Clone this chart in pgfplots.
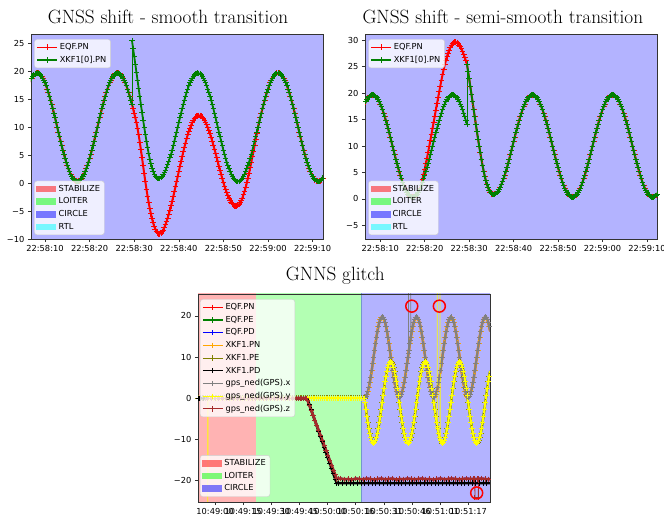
\documentclass[border=0pt]{standalone}
\usepackage{fontspec}
\usepackage{pgfplots}
\usepackage{pgfplotstable}
\pgfplotsset{compat=1.18}
\newfontfamily\djv{DejaVu Sans}
\newcommand\tfont{\djv\fontsize{8.3}{10}\selectfont}
\definecolor{mplred}{RGB}{255,0,0}
\definecolor{mplgreen}{RGB}{0,128,0}
\definecolor{mplblue}{RGB}{0,0,255}
\definecolor{mplorange}{RGB}{255,165,0}
\definecolor{mplolive}{RGB}{128,128,0}
\definecolor{mplgray}{RGB}{128,128,128}
\definecolor{mplyellow}{RGB}{255,255,0}
\definecolor{mplbrown}{RGB}{165,42,42}
\definecolor{circbg}{RGB}{179,179,255}
\definecolor{stabbg}{RGB}{255,179,179}
\definecolor{loitbg}{RGB}{179,255,179}
\definecolor{circedge}{RGB}{115,150,205}
\definecolor{lime}{RGB}{0,255,0}
\definecolor{mplcyan}{RGB}{0,255,255}

% ---------- top charts: segments of the north position (s from 22:58:00) ----------
\pgfplotstableread[row sep=\\]{
t y\\
6.50 17.95\\ 6.75 18.40\\ 7.00 18.79\\ 7.25 19.12\\ 7.50 19.37\\ 7.75 19.55\\ 8.00 19.66\\ 8.25 19.70\\
8.50 19.66\\ 8.75 19.55\\ 9.00 19.37\\ 9.25 19.12\\ 9.50 18.79\\ 9.75 18.40\\ 10.00 17.95\\ 10.25 17.43\\
10.50 16.86\\ 10.75 16.24\\ 11.00 15.56\\ 11.25 14.85\\ 11.50 14.10\\ 11.75 13.32\\ 12.00 12.51\\ 12.25 11.68\\
12.50 10.85\\ 12.75 10.00\\ 13.00 9.15\\ 13.25 8.32\\ 13.50 7.49\\ 13.75 6.68\\ 14.00 5.90\\ 14.25 5.15\\
14.50 4.44\\ 14.75 3.77\\ 15.00 3.14\\ 15.25 2.57\\ 15.50 2.05\\ 15.75 1.60\\ 16.00 1.21\\ 16.25 0.89\\
16.50 0.63\\ 16.75 0.45\\ 17.00 0.34\\ 17.25 0.30\\ 17.50 0.34\\ 17.75 0.45\\ 18.00 0.63\\ 18.25 0.89\\
18.50 1.21\\ 18.75 1.60\\ 19.00 2.05\\ 19.25 2.57\\
}\Sone
\pgfplotstableread[row sep=\\]{
t y\\
19.25 2.57\\ 19.50 3.14\\ 19.75 3.77\\ 20.00 4.44\\ 20.25 5.15\\ 20.50 5.90\\ 20.75 6.68\\ 21.00 7.49\\
21.25 8.32\\ 21.50 9.15\\ 21.75 10.00\\ 22.00 10.85\\ 22.25 11.68\\ 22.50 12.51\\ 22.75 13.32\\ 23.00 14.10\\
23.25 14.85\\ 23.50 15.56\\ 23.75 16.24\\ 24.00 16.86\\ 24.25 17.43\\ 24.50 17.95\\ 24.75 18.40\\ 25.00 18.79\\
25.25 19.12\\ 25.50 19.37\\ 25.75 19.55\\ 26.00 19.66\\ 26.25 19.70\\ 26.50 19.66\\ 26.75 19.55\\ 27.00 19.37\\
27.25 19.12\\ 27.50 18.79\\ 27.75 18.40\\ 28.00 17.95\\ 28.25 17.43\\ 28.50 16.86\\ 28.75 16.24\\ 29.00 15.56\\
29.25 14.85\\ 29.50 14.10\\
}\Stwo
\pgfplotstableread[row sep=\\]{
t y\\
19.25 2.57\\ 19.50 3.74\\ 19.75 4.67\\ 20.00 5.64\\ 20.25 6.65\\ 20.50 7.70\\ 20.75 8.78\\ 21.00 9.89\\
21.25 11.02\\ 21.50 12.15\\ 21.75 13.30\\ 22.00 14.45\\ 22.25 15.63\\ 22.50 16.81\\ 22.75 17.97\\ 23.00 19.10\\
23.25 20.25\\ 23.50 21.36\\ 23.75 22.44\\ 24.00 23.46\\ 24.25 24.43\\ 24.50 25.35\\ 24.75 26.15\\ 25.00 26.89\\
25.25 27.57\\ 25.50 28.17\\ 25.75 28.65\\ 26.00 29.06\\ 26.25 29.35\\ 26.50 29.56\\ 26.75 29.65\\ 27.00 29.67\\
27.25 29.57\\ 27.50 29.39\\ 27.75 29.12\\ 28.00 28.80\\ 28.25 28.38\\ 28.50 27.91\\ 28.75 27.39\\ 29.00 26.81\\
29.25 26.18\\ 29.50 25.50\\
}\Rtwo
\pgfplotstableread[row sep=\\]{
t y\\
29.50 25.50\\ 29.75 24.12\\ 30.00 22.71\\ 30.25 21.28\\ 30.50 19.85\\ 30.75 18.40\\ 31.00 16.95\\ 31.25 15.52\\
31.50 14.09\\ 31.75 12.68\\ 32.00 11.30\\ 32.25 10.00\\ 32.50 8.74\\ 32.75 7.52\\ 33.00 6.34\\ 33.25 5.27\\
33.50 4.30\\ 33.75 3.45\\ 34.00 2.71\\ 34.25 2.09\\ 34.50 1.58\\ 34.75 1.23\\ 35.00 0.99\\ 35.25 0.85\\
35.50 0.82\\ 35.75 0.87\\ 36.00 1.00\\ 36.25 1.21\\ 36.50 1.49\\ 36.75 1.84\\ 37.00 2.25\\ 37.25 2.74\\
37.50 3.28\\ 37.75 3.88\\ 38.00 4.52\\
}\Gpost
\pgfplotstableread[row sep=\\]{
t y\\
38.00 4.52\\ 38.25 5.15\\ 38.50 5.90\\ 38.75 6.68\\ 39.00 7.49\\ 39.25 8.32\\ 39.50 9.15\\ 39.75 10.00\\
40.00 10.85\\ 40.25 11.68\\ 40.50 12.51\\ 40.75 13.32\\ 41.00 14.10\\ 41.25 14.85\\ 41.50 15.56\\ 41.75 16.24\\
42.00 16.86\\ 42.25 17.43\\ 42.50 17.95\\ 42.75 18.40\\ 43.00 18.79\\ 43.25 19.12\\ 43.50 19.37\\ 43.75 19.55\\
44.00 19.66\\ 44.25 19.70\\ 44.50 19.66\\ 44.75 19.55\\ 45.00 19.37\\ 45.25 19.12\\ 45.50 18.79\\ 45.75 18.40\\
46.00 17.95\\ 46.25 17.43\\ 46.50 16.86\\ 46.75 16.24\\ 47.00 15.56\\ 47.25 14.85\\ 47.50 14.10\\ 47.75 13.32\\
48.00 12.51\\ 48.25 11.68\\ 48.50 10.85\\ 48.75 10.00\\ 49.00 9.15\\ 49.25 8.32\\ 49.50 7.49\\ 49.75 6.68\\
50.00 5.90\\ 50.25 5.15\\ 50.50 4.44\\ 50.75 3.77\\ 51.00 3.14\\ 51.25 2.57\\ 51.50 2.05\\ 51.75 1.60\\
52.00 1.21\\ 52.25 0.89\\ 52.50 0.63\\ 52.75 0.45\\ 53.00 0.34\\ 53.25 0.30\\ 53.50 0.34\\ 53.75 0.45\\
54.00 0.63\\ 54.25 0.89\\ 54.50 1.21\\ 54.75 1.60\\ 55.00 2.05\\ 55.25 2.57\\ 55.50 3.14\\ 55.75 3.77\\
56.00 4.44\\ 56.25 5.15\\ 56.50 5.90\\ 56.75 6.68\\ 57.00 7.49\\ 57.25 8.32\\ 57.50 9.15\\ 57.75 10.00\\
}\Sthree
\pgfplotstableread[row sep=\\]{
t y\\
29.50 14.10\\ 29.75 13.32\\ 30.00 12.51\\ 30.25 11.68\\ 30.50 10.85\\ 30.75 9.80\\ 31.00 8.65\\ 31.25 7.37\\
31.50 5.99\\ 31.75 4.58\\ 32.00 3.10\\ 32.25 1.65\\ 32.50 0.24\\ 32.75 -1.08\\ 33.00 -2.36\\ 33.25 -3.48\\
33.50 -4.55\\ 33.75 -5.50\\ 34.00 -6.39\\ 34.25 -7.11\\ 34.50 -7.77\\ 34.75 -8.25\\ 35.00 -8.66\\ 35.25 -8.90\\
35.50 -9.06\\ 35.75 -9.05\\ 36.00 -8.97\\ 36.25 -8.71\\ 36.50 -8.39\\ 36.75 -7.95\\ 37.00 -7.45\\ 37.25 -6.88\\
37.50 -6.26\\ 37.75 -5.58\\ 38.00 -4.86\\ 38.25 -4.08\\ 38.50 -3.27\\ 38.75 -2.42\\ 39.00 -1.54\\ 39.25 -0.65\\
39.50 0.25\\ 39.75 1.17\\ 40.00 2.08\\ 40.25 2.98\\ 40.50 3.88\\ 40.75 4.75\\ 41.00 5.60\\ 41.25 6.42\\
41.50 7.19\\ 41.75 7.94\\ 42.00 8.63\\ 42.25 9.26\\ 42.50 9.85\\ 42.75 10.37\\ 43.00 10.82\\ 43.25 11.22\\
43.50 11.54\\ 43.75 11.78\\ 44.00 11.96\\ 44.25 12.08\\ 44.50 12.12\\ 44.75 12.09\\ 45.00 11.99\\ 45.25 11.82\\
45.50 11.56\\ 45.75 11.25\\ 46.00 10.88\\ 46.25 10.44\\ 46.50 9.95\\ 46.75 9.41\\ 47.00 8.81\\ 47.25 8.18\\
47.50 7.51\\ 47.75 6.81\\ 48.00 6.08\\ 48.25 5.32\\ 48.50 4.57\\ 48.75 3.80\\ 49.00 3.03\\ 49.25 2.28\\
49.50 1.53\\ 49.75 0.80\\ 50.00 0.10\\ 50.25 -0.54\\ 50.50 -1.14\\ 50.75 -1.69\\ 51.00 -2.21\\ 51.25 -2.67\\
51.50 -3.08\\ 51.75 -3.41\\ 52.00 -3.69\\ 52.25 -3.90\\ 52.50 -4.05\\ 52.75 -4.11\\ 53.00 -4.11\\ 53.25 -4.00\\
53.50 -3.79\\ 53.75 -3.52\\ 54.00 -3.17\\ 54.25 -2.66\\ 54.50 -2.09\\ 54.75 -1.45\\ 55.00 -0.75\\ 55.25 0.05\\
55.50 0.89\\ 55.75 1.80\\ 56.00 2.74\\ 56.25 3.70\\ 56.50 4.70\\ 56.75 5.73\\ 57.00 6.79\\ 57.25 7.87\\
57.50 8.90\\ 57.75 9.90\\
}\Rone
\pgfplotstableread[row sep=\\]{
t y\\
57.75 10.00\\ 58.00 10.85\\ 58.25 11.68\\ 58.50 12.51\\ 58.75 13.32\\ 59.00 14.10\\ 59.25 14.85\\ 59.50 15.56\\
59.75 16.24\\ 60.00 16.86\\ 60.25 17.43\\ 60.50 17.95\\ 60.75 18.40\\ 61.00 18.79\\ 61.25 19.12\\ 61.50 19.37\\
61.75 19.55\\ 62.00 19.66\\ 62.25 19.70\\ 62.50 19.66\\ 62.75 19.55\\ 63.00 19.37\\ 63.25 19.12\\ 63.50 18.79\\
63.75 18.40\\ 64.00 17.95\\ 64.25 17.43\\ 64.50 16.86\\ 64.75 16.24\\ 65.00 15.56\\ 65.25 14.85\\ 65.50 14.10\\
65.75 13.32\\ 66.00 12.51\\ 66.25 11.68\\ 66.50 10.85\\ 66.75 10.00\\ 67.00 9.15\\ 67.25 8.32\\ 67.50 7.49\\
67.75 6.68\\ 68.00 5.90\\ 68.25 5.15\\ 68.50 4.44\\ 68.75 3.77\\ 69.00 3.14\\ 69.25 2.57\\ 69.50 2.05\\
69.75 1.60\\ 70.00 1.21\\ 70.25 0.89\\ 70.50 0.63\\ 70.75 0.45\\ 71.00 0.34\\ 71.25 0.30\\ 71.50 0.34\\
71.75 0.45\\ 72.00 0.63\\ 72.25 0.89\\ 72.50 1.21\\
}\Sfour

% ---------- bottom chart (s from 10:49:00) ----------
\pgfplotstableread[row sep=\\]{
t y\\
-9.5 0\\ -9 0\\ -8 0\\ -7 0\\ -6 0\\ -5 0\\ -4 0\\ -3 0\\ -2 0\\ -1 0\\ 0 0\\ 1 0\\ 2 0\\ 3 0\\ 4 0\\ 5 0\\
6 0\\ 7 0\\ 8 0\\ 9 0\\ 10 0\\ 11 0\\ 12 0\\ 13 0\\ 14 0\\ 15 0\\ 16 0\\ 17 0\\ 18 0\\ 19 0\\ 20 0\\ 21 0\\
22 0\\ 23 0\\ 24 0\\ 25 0\\ 26 0\\ 27 0\\ 28 0\\ 29 0\\ 30 0\\ 31 0\\ 32 0\\ 33 0\\ 34 0\\ 35 0\\ 36 0\\ 37 0\\
38 0\\ 39 0\\ 40 0\\ 41 0\\ 42 0\\ 43 0\\ 44 0\\ 45 0\\ 46 0\\ 47 0\\ 48 0\\ 49 0\\ 50 0\\ 51 0\\ 52 0\\ 53 0\\
54 0\\ 55 0\\ 56 0\\ 57 0\\ 58 0\\ 59 0\\ 60 0\\ 61 0\\ 62 0\\ 63 0\\ 64 0\\ 65 0\\ 66 0\\ 67 0\\ 68 0\\ 69 0\\
70 0\\ 71 0\\ 72 0\\ 73 0\\ 74 0\\ 75 0\\ 76 0\\ 77 0\\ 78 0\\ 79 0\\ 80 0\\ 81 0\\
}\Bzero
\pgfplotstableread[row sep=\\]{
t n e\\
81.10 0.30 -1.00\\ 81.62 0.45 -2.72\\ 82.13 0.89 -4.39\\ 82.65 1.60 -5.95\\ 83.17 2.57 -7.36\\ 83.68 3.77 -8.58\\
84.20 5.15 -9.57\\ 84.72 6.68 -10.30\\ 85.23 8.32 -10.75\\ 85.75 10.00 -10.90\\ 86.27 11.68 -10.75\\ 86.78 13.32 -10.30\\
87.30 14.85 -9.57\\ 87.82 16.24 -8.58\\ 88.33 17.43 -7.36\\ 88.85 18.40 -5.95\\ 89.37 19.12 -4.39\\ 89.88 19.55 -2.72\\
90.40 19.70 -1.00\\ 90.92 19.55 0.72\\ 91.43 19.12 2.39\\ 91.95 18.40 3.95\\ 92.47 17.43 5.36\\ 92.98 16.24 6.58\\
93.50 14.85 7.57\\ 94.02 13.32 8.30\\ 94.53 11.68 8.75\\ 95.05 10.00 8.90\\ 95.57 8.32 8.75\\ 96.08 6.68 8.30\\
96.60 5.15 7.57\\ 97.12 3.77 6.58\\ 97.63 2.57 5.36\\ 98.15 1.60 3.95\\ 98.67 0.89 2.39\\ 99.18 0.45 0.72\\
99.70 0.30 -1.00\\ 100.22 0.45 -2.72\\ 100.73 0.89 -4.39\\ 101.25 1.60 -5.95\\ 101.77 2.57 -7.36\\ 102.28 3.77 -8.58\\
102.80 5.15 -9.57\\ 103.32 6.68 -10.30\\ 103.83 8.32 -10.75\\ 104.35 10.00 -10.90\\ 104.87 11.68 -10.75\\ 105.38 13.32 -10.30\\
105.90 14.85 -9.57\\ 106.42 16.24 -8.58\\ 106.93 17.43 -7.36\\ 107.45 18.40 -5.95\\ 107.97 19.12 -4.39\\ 108.48 19.55 -2.72\\
109.00 19.70 -1.00\\ 109.52 19.55 0.72\\ 110.03 19.12 2.39\\ 110.55 18.40 3.95\\ 111.07 17.43 5.36\\ 111.58 16.24 6.58\\
112.10 14.85 7.57\\ 112.62 13.32 8.30\\ 113.13 11.68 8.75\\ 113.65 10.00 8.90\\ 114.17 8.32 8.75\\ 114.68 6.68 8.30\\
115.20 5.15 7.57\\ 115.72 3.77 6.58\\ 116.23 2.57 5.36\\ 116.75 1.60 3.95\\ 117.27 0.89 2.39\\ 117.78 0.45 0.72\\
118.30 0.30 -1.00\\ 118.82 0.45 -2.72\\ 119.33 0.89 -4.39\\ 119.85 1.60 -5.95\\ 120.37 2.57 -7.36\\ 120.88 3.77 -8.58\\
121.40 5.15 -9.57\\ 121.92 6.68 -10.30\\ 122.43 8.32 -10.75\\ 122.95 10.00 -10.90\\ 123.47 11.68 -10.75\\ 123.98 13.32 -10.30\\
124.50 14.85 -9.57\\ 125.02 16.24 -8.58\\ 125.53 17.43 -7.36\\ 126.05 18.40 -5.95\\ 126.57 19.12 -4.39\\ 127.08 19.55 -2.72\\
127.60 19.70 -1.00\\ 128.12 19.55 0.72\\ 128.63 19.12 2.39\\ 129.15 18.40 3.95\\ 129.67 17.43 5.36\\ 130.18 16.24 6.58\\
130.70 14.85 7.57\\ 131.22 13.32 8.30\\ 131.73 11.68 8.75\\ 132.25 10.00 8.90\\ 132.77 8.32 8.75\\ 133.28 6.68 8.30\\
133.80 5.15 7.57\\ 134.32 3.77 6.58\\ 134.83 2.57 5.36\\ 135.35 1.60 3.95\\ 135.87 0.89 2.39\\ 136.38 0.45 0.72\\
136.90 0.30 -1.00\\ 137.42 0.45 -2.72\\ 137.93 0.89 -4.39\\ 138.45 1.60 -5.95\\ 138.97 2.57 -7.36\\ 139.48 3.77 -8.58\\
140.00 5.15 -9.57\\ 140.52 6.68 -10.30\\ 141.03 8.32 -10.75\\ 141.55 10.00 -10.90\\ 142.07 11.68 -10.75\\ 142.58 13.32 -10.30\\
143.10 14.85 -9.57\\ 143.62 16.24 -8.58\\ 144.13 17.43 -7.36\\ 144.65 18.40 -5.95\\ 145.17 19.12 -4.39\\ 145.68 19.55 -2.72\\
146.20 19.70 -1.00\\ 146.72 19.55 0.72\\ 147.23 19.12 2.39\\ 147.75 18.40 3.95\\ 148.27 17.43 5.36\\ 148.78 16.24 6.58\\
}\NE
\pgfplotstableread[row sep=\\]{
t y\\
-3.85 0\\ -2 0\\ 0 0\\ 2 0\\ 4 0\\ 6 0\\ 8 0\\ 10 0\\ 12 0\\ 14 0\\ 16 0\\ 18 0\\ 20 0\\ 22 0\\ 24 0\\ 26 0\\
28 0\\ 30 0\\ 32 0\\ 34 0\\ 36 0\\ 38 0\\ 40 0\\ 42 0\\ 44 0\\ 45 0\\ 46 0\\ 47 0\\ 48 0\\ 49 0\\ 49.6 0\\
50 -0.48\\ 51 -1.69\\ 52 -2.90\\ 53 -4.11\\ 54 -5.32\\ 55 -6.53\\ 56 -7.74\\ 57 -8.95\\ 58 -10.16\\ 59 -11.37\\
60 -12.58\\ 61 -13.79\\ 62 -15.00\\ 63 -16.21\\ 64 -17.42\\ 65 -18.63\\ 65.8 -19.60\\ 67 -19.55\\
68 -19.5\\ 70 -19.7\\ 72 -19.6\\ 74 -19.8\\ 76 -19.5\\ 78 -19.6\\ 80 -19.7\\ 82 -19.5\\ 84 -19.6\\ 86 -19.8\\
88 -19.6\\ 90 -19.5\\ 92 -19.7\\ 94 -19.6\\ 96 -19.5\\ 98 -19.8\\ 100 -19.6\\ 102 -19.7\\ 104 -19.5\\ 106 -19.6\\
108 -19.7\\ 110 -19.6\\ 112 -19.5\\ 114 -19.7\\ 116 -19.6\\ 118 -19.8\\ 120 -19.6\\ 122 -19.5\\ 124 -19.7\\
126 -19.6\\ 128 -19.5\\ 130 -19.6\\ 132 -19.7\\ 134 -19.6\\ 136 -19.5\\ 138 -19.6\\ 140 -19.6\\ 142 -19.6\\
144 -19.5\\ 146 -19.6\\ 148 -19.7\\ 149 -19.6\\
}\Dz
\pgfplotstableread[row sep=\\]{
t y\\
-9.5 0\\ -9 0\\ -8.5 0\\ -8 0\\ -6 0\\ -4 0\\ -2 0\\ 0 0\\ 2 0\\ 4 0\\ 6 0\\ 8 0\\ 10 0\\ 12 0\\ 14 0\\ 16 0\\
18 0\\ 20 0\\ 22 0\\ 24 0\\ 26 0\\ 28 0\\ 30 0\\ 32 0\\ 34 0\\ 36 0\\ 38 0\\ 40 0\\ 42 0\\ 44 0\\ 46 0\\ 48 0\\
49 0\\ 49.8 0\\ 50 -0.26\\ 51 -1.55\\ 52 -2.84\\ 53 -4.13\\ 54 -5.42\\ 55 -6.71\\ 56 -8.00\\ 57 -9.29\\
58 -10.58\\ 59 -11.87\\ 60 -13.16\\ 61 -14.45\\ 62 -15.74\\ 63 -17.03\\ 64 -18.32\\ 65 -19.61\\ 65.8 -20.60\\
67 -20.6\\ 69 -20.6\\ 71 -20.6\\ 73 -20.6\\ 75 -20.6\\ 77 -20.6\\ 79 -20.6\\ 81 -20.6\\ 83 -20.6\\ 85 -20.6\\
87 -20.6\\ 89 -20.6\\ 91 -20.6\\ 93 -20.6\\ 95 -20.6\\ 97 -20.6\\ 99 -20.6\\ 101 -20.6\\ 103 -20.6\\ 105 -20.6\\
107 -20.6\\ 109 -20.6\\ 111 -20.6\\ 113 -20.6\\ 115 -20.6\\ 117 -20.6\\ 119 -20.6\\ 121 -20.6\\ 123 -20.6\\
125 -20.6\\ 127 -20.6\\ 129 -20.6\\ 131 -20.6\\ 133 -20.6\\ 135 -20.6\\ 137 -20.6\\ 139 -20.6\\ 141 -20.6\\
143 -20.6\\ 145 -20.6\\ 147 -20.6\\ 149 -20.6\\
}\Dk

\pgfplotsset{
  legend image code/.code={\draw[mark repeat=2,mark phase=2,#1,line width=1.1bp] plot coordinates {(0bp,0bp) (10bp,0bp) (20bp,0bp)};},
  mplax/.style={scale only axis, width=292bp, tick align=outside, tick pos=left,
    major tick length=3.2bp, axis on top,
    axis line style={black!80, line width=0.6bp}, tick style={black!80, line width=0.6bp},
    ticklabel style={font=\tfont}, /pgf/number format/assume math mode=true,
    legend cell align=left,
    legend style={font=\tfont, draw=black!20, fill=white, fill opacity=0.8, text opacity=1,
      draw opacity=1, rounded corners=2.5bp, inner xsep=2bp, inner ysep=1.5bp, row sep=0bp,
      nodes={inner xsep=2.2bp, inner ysep=2.3bp, text height=6.3bp, text depth=1.8bp}}},
  lred/.style={color=mplred, line width=2.0bp, mark=+, mark size=2.9bp, mark options={line width=0.9bp}},
  lgreen/.style={color=mplgreen, line width=1.8bp, mark=+, mark size=2.7bp, mark options={line width=0.9bp}},
  bl/.style={line width=2.0bp, mark=+, mark size=2.6bp, mark options={line width=0.9bp}},
  modepatch/.style={legend image code/.code={\path[draw=none, fill=#1, fill opacity=0.5, sharp corners] (0bp,-3.3bp) rectangle (20bp,3.3bp);}},
}

\begin{document}
\begin{tikzpicture}
\path[use as bounding box] (0,0) rectangle (664bp,519bp);

\node[anchor=base, font=\fontsize{19.3}{23}\selectfont] at (168bp,495bp) {GNSS shift - smooth transition};
\node[anchor=base, font=\fontsize{19.3}{23}\selectfont] at (502.8bp,495bp) {GNSS shift - semi-smooth transition};
\node[anchor=base, font=\fontsize{19.3}{23}\selectfont] at (335.3bp,238.3bp) {GNNS glitch};

% ---------------- chart 1 ----------------
\begin{axis}[mplax, at={(31bp,280bp)}, anchor=south west, height=205bp,
  xmin=6.86, xmax=72.33, ymin=-10, ymax=26.7,
  xtick={10,20,30,40,50,60,70},
  xticklabels={22:58:10,22:58:20,22:58:30,22:58:40,22:58:50,22:59:00,22:59:10},
  ytick={-10,-5,0,5,10,15,20,25}, yticklabels={−10,−5,0,5,10,15,20,25},
  axis background/.style={fill=circbg},
  legend style={at={(0,1)}, anchor=north west, xshift=3.3bp, yshift=-5.3bp}]
\addplot[lred] table[x=t,y=y] {\Sone};
\addlegendentry{EQF.PN}
\addplot[lred, forget plot] table[x=t,y=y] {\Stwo};
\addplot[lred, forget plot] table[x=t,y=y] {\Rone};
\addplot[lred, forget plot] table[x=t,y=y] {\Sfour};
\addplot[lgreen] table[x=t,y=y] {\Sone};
\addlegendentry{XKF1[0].PN}
\addplot[lgreen, forget plot] table[x=t,y=y] {\Stwo};
\addplot[lgreen, line width=0.8bp, forget plot] coordinates {(29.50,14.10) (29.50,25.50)};
\addplot[lgreen, forget plot] table[x=t,y=y] {\Gpost};
\addplot[lgreen, forget plot] table[x=t,y=y] {\Sthree};
\addplot[lgreen, forget plot] table[x=t,y=y] {\Sfour};
\end{axis}
\begin{axis}[mplax, hide axis, at={(31bp,280bp)}, anchor=south west, height=205bp,
  xmin=0, xmax=1, ymin=0, ymax=1,
  legend style={at={(0,0)}, anchor=south west, xshift=3.3bp, yshift=4bp}]
\addplot[draw=none, forget plot] coordinates {(0.5,0.5)};
\addlegendimage{modepatch=mplred}\addlegendentry{STABILIZE}
\addlegendimage{modepatch=lime}\addlegendentry{LOITER}
\addlegendimage{modepatch=mplblue}\addlegendentry{CIRCLE}
\addlegendimage{modepatch=mplcyan}\addlegendentry{RTL}
\end{axis}

% ---------------- chart 2 ----------------
\begin{axis}[mplax, at={(365bp,280bp)}, anchor=south west, height=205bp,
  xmin=6.56, xmax=72.26, ymin=-7.6, ymax=31.2,
  xtick={10,20,30,40,50,60,70},
  xticklabels={22:58:10,22:58:20,22:58:30,22:58:40,22:58:50,22:59:00,22:59:10},
  ytick={-5,0,5,10,15,20,25,30}, yticklabels={−5,0,5,10,15,20,25,30},
  axis background/.style={fill=circbg},
  legend style={at={(0,1)}, anchor=north west, xshift=3.3bp, yshift=-5.3bp}]
\addplot[lred] table[x=t,y=y] {\Sone};
\addlegendentry{EQF.PN}
\addplot[lred, forget plot] table[x=t,y=y] {\Rtwo};
\addplot[lred, forget plot] table[x=t,y=y] {\Gpost};
\addplot[lred, forget plot] table[x=t,y=y] {\Sthree};
\addplot[lred, forget plot] table[x=t,y=y] {\Sfour};
\addplot[lgreen] table[x=t,y=y] {\Sone};
\addlegendentry{XKF1[0].PN}
\addplot[lgreen, forget plot] table[x=t,y=y] {\Stwo};
\addplot[lgreen, line width=0.8bp, forget plot] coordinates {(29.50,14.10) (29.50,25.50)};
\addplot[lgreen, forget plot] table[x=t,y=y] {\Gpost};
\addplot[lgreen, forget plot] table[x=t,y=y] {\Sthree};
\addplot[lgreen, forget plot] table[x=t,y=y] {\Sfour};
\end{axis}
\begin{axis}[mplax, hide axis, at={(365bp,280bp)}, anchor=south west, height=205bp,
  xmin=0, xmax=1, ymin=0, ymax=1,
  legend style={at={(0,0)}, anchor=south west, xshift=3.3bp, yshift=4bp}]
\addplot[draw=none, forget plot] coordinates {(0.5,0.5)};
\addlegendimage{modepatch=mplred}\addlegendentry{STABILIZE}
\addlegendimage{modepatch=lime}\addlegendentry{LOITER}
\addlegendimage{modepatch=mplblue}\addlegendentry{CIRCLE}
\addlegendimage{modepatch=mplcyan}\addlegendentry{RTL}
\end{axis}

% ---------------- chart 3 ----------------
\begin{axis}[mplax, at={(198bp,17bp)}, anchor=south west, height=208bp,
  xmin=-9.2, xmax=148.7, ymin=-25.2, ymax=25.3,
  xtick={0,15.22,30.44,45.67,60.89,76.11,91.33,106.56,121.78,137.0},
  xticklabels={10:49:00,10:49:15,10:49:30,10:49:45,10:50:00,10:50:16,10:50:31,10:50:46,10:51:01,10:51:17},
  ytick={-20,-10,0,10,20}, yticklabels={−20,−10,0,10,20},
  legend style={at={(0,1)}, anchor=north west, xshift=2bp, yshift=-5.3bp}]
\addplot[fill=stabbg, draw=none, forget plot] coordinates {(-20,-40) (-20,40) (22.0,40) (22.0,-40)};
\addplot[fill=loitbg, draw=none, forget plot] coordinates {(22.0,-40) (22.0,40) (79.0,40) (79.0,-40)};
\addplot[fill=circbg, draw=none, forget plot] coordinates {(79.0,-40) (79.0,40) (160,40) (160,-40)};
\addplot[draw=circedge, line width=0.8bp, forget plot] coordinates {(79.0,-40) (79.0,40)};
% EQF
\addplot[bl, color=mplred] table[x=t,y=y] {\Bzero};
\addlegendentry{EQF.PN}
\addplot[bl, color=mplred, forget plot] table[x=t,y=n] {\NE};
\addplot[bl, color=mplgreen] table[x=t,y=y] {\Bzero};
\addlegendentry{EQF.PE}
\addplot[bl, color=mplgreen, forget plot] table[x=t,y=e] {\NE};
\addplot[bl, color=mplblue] table[x=t,y=y] {\Dz};
\addlegendentry{EQF.PD}
% XKF1
\addplot[bl, color=mplorange, line width=2.5bp, mark size=2.9bp] table[x=t,y=y] {\Bzero};
\addlegendentry{XKF1.PN}
\addplot[bl, color=mplorange, line width=2.5bp, mark size=2.9bp, forget plot] table[x=t,y=n] {\NE};
\addplot[bl, color=mplolive, line width=2.4bp, mark size=2.9bp] table[x=t,y=y] {\Bzero};
\addlegendentry{XKF1.PE}
\addplot[bl, color=mplolive, line width=2.4bp, mark size=2.9bp, forget plot] table[x=t,y=e] {\NE};
\addplot[bl, color=black, line width=2.6bp] table[x=t,y=y] {\Dk};
\addlegendentry{XKF1.PD}
% GPS
\addplot[bl, color=mplgray, restrict x to domain=-3.9:90] table[x=t,y=y] {\Bzero};
\addlegendentry{gps\_ned(GPS).x}
\addplot[bl, color=mplgray, forget plot] table[x=t,y=n] {\NE};
\addplot[bl, color=mplgray, line width=0.8bp, forget plot] coordinates {(104.60,10.90) (104.62,50) (105.88,50) (105.90,14.10)};
\addplot[bl, color=mplyellow, restrict x to domain=-3.9:90] table[x=t,y=y] {\Bzero};
\addlegendentry{gps\_ned(GPS).y}
\addplot[bl, color=mplyellow, forget plot] table[x=t,y=e] {\NE};
\addplot[bl, color=mplyellow, line width=0.8bp, forget plot] coordinates {(-3.95,-80) (-3.85,0)};
\addplot[bl, color=mplyellow, line width=0.8bp, forget plot] coordinates {(120.20,-6.90) (120.22,50) (121.70,50) (121.72,-10.00)};
\addplot[bl, color=mplbrown, line width=2.6bp] table[x=t,y=y] {\Dz};
\addlegendentry{gps\_ned(GPS).z}
\addplot[bl, color=mplbrown, line width=0.8bp, forget plot] coordinates {(140.50,-19.60) (140.55,-24.20) (142.40,-24.20) (142.45,-19.60)};
\addplot[only marks, mark=o, mark size=6bp, color=mplred, mark options={line width=1.5bp}, forget plot]
  coordinates {(106.4,22.35) (121.3,22.35) (141.5,-23.0)};
\end{axis}
\begin{axis}[mplax, hide axis, at={(198bp,17bp)}, anchor=south west, height=208bp,
  xmin=0, xmax=1, ymin=0, ymax=1,
  legend style={at={(0,0)}, anchor=south west, xshift=2bp, yshift=5.3bp}]
\addplot[draw=none, forget plot] coordinates {(0.5,0.5)};
\addlegendimage{modepatch=mplred}\addlegendentry{STABILIZE}
\addlegendimage{modepatch=lime}\addlegendentry{LOITER}
\addlegendimage{modepatch=mplblue}\addlegendentry{CIRCLE}
\end{axis}
\end{tikzpicture}
\end{document}
